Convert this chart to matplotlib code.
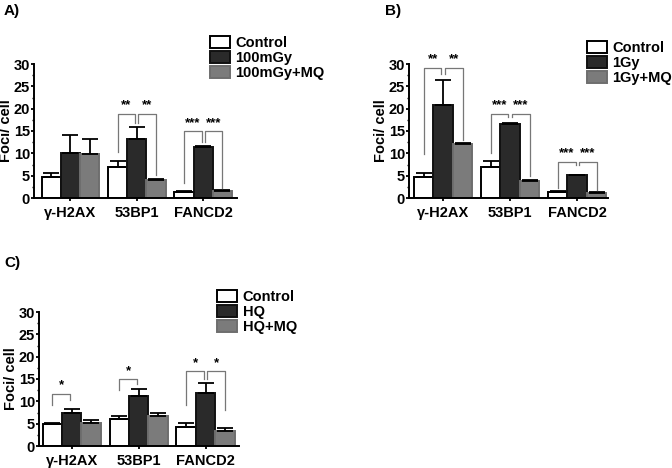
import matplotlib
matplotlib.use("Agg")
import matplotlib.pyplot as plt
import numpy as np

plt.rcParams['font.family'] = ['Liberation Sans', 'DejaVu Sans']
plt.rcParams['font.weight'] = 'bold'

markers = ["γ-H2AX", "53BP1", "FANCD2"]

# Panel A
a_labels = ["Control", "100mGy", "100mGy+MQ"]
a_means = [[4.7, 6.9, 1.3], [10.0, 13.3, 11.5], [9.9, 4.0, 1.6]]
a_err = [[1.0, 1.3, 0.2], [4.1, 2.6, 0.2], [3.4, 0.2, 0.2]]
# (group, pair: 0 = ctrl-vs-treat, 1 = treat-vs-MQ, top, leg1, leg2, stars)
a_sig = [(1, 0, 18.8, 10.3, 16.7, "**"), (1, 1, 18.8, 16.7, 5.1, "**"),
         (2, 0, 14.9, 3.4, 12.6, "***"), (2, 1, 14.9, 12.6, 2.3, "***")]

# Panel B
b_labels = ["Control", "1Gy", "1Gy+MQ"]
b_means = [[4.7, 6.9, 1.3], [20.9, 16.6, 5.1], [12.1, 3.9, 1.2]]
b_err = [[0.9, 1.3, 0.2], [5.6, 0.2, 0.15], [0.2, 0.2, 0.2]]
b_sig = [(0, 0, 29.2, 9.8, 27.8, "**"), (0, 1, 29.2, 27.8, 13.0, "**"),
         (1, 0, 18.9, 10.0, 18.1, "***"), (1, 1, 18.9, 18.1, 4.9, "***"),
         (2, 0, 8.1, 2.3, 7.4, "***"), (2, 1, 8.1, 7.4, 1.7, "***")]

# Panel C
c_labels = ["Control", "HQ", "HQ+MQ"]
c_means = [[5.0, 6.1, 4.3], [7.4, 11.1, 11.9], [5.2, 6.7, 3.3]]
c_err = [[0.25, 0.7, 0.8], [0.8, 1.7, 2.1], [0.65, 0.6, 0.7]]
c_sig = [(0, 0, 11.7, 9.2, 10.3, "*"), (1, 0, 14.9, 12.6, 13.9, "*"),
         (2, 0, 16.7, 9.2, 15.1, "*"), (2, 1, 16.7, 15.1, 8.1, "*")]

W, H = 672, 468
fig = plt.figure(figsize=(W / 100, H / 100), dpi=100)

face = ["white", "#2a2a2a", "#7b7b7b"]
edge = ["black", "#111111", "#6e6e6e"]
bw = 0.29


def panel(rect, labels, means, errs, sig, xlim, letter, letter_pos, leg_pos):
    l, t, r, b = rect
    ax = fig.add_axes([l / W, 1 - b / H, (r - l) / W, (b - t) / H])
    x = np.arange(len(markers))
    handles = []
    for i in range(3):
        pos = x + (i - 1) * bw
        h = ax.bar(pos, means[i], bw, color=face[i], edgecolor=edge[i],
                   linewidth=1.4, zorder=2, label=labels[i])
        handles.append(h)
        ax.errorbar(pos, means[i], yerr=[np.zeros(3), errs[i]], fmt='none',
                    ecolor='black', elinewidth=1.3, capsize=5.5,
                    capthick=1.3, zorder=3)
    for g, p, top, y1, y2, st in sig:
        if p == 0:
            xa, xb = g - bw, g - 0.025
        else:
            xa, xb = g + 0.025, g + bw
        ax.plot([xa, xa, xb, xb], [y1, top, top, y2], color='#777777',
                lw=0.9, clip_on=False, zorder=4)
        ax.text((xa + xb) / 2, top + 0.6, st, ha='center', va='bottom',
                fontsize=9.5, fontweight='bold', clip_on=False)
    ax.set_ylim(0, 30)
    ax.set_xlim(*xlim)
    ax.set_yticks([0, 5, 10, 15, 20, 25, 30])
    ax.set_yticks(np.arange(0, 30.1, 2.5), minor=True)
    ax.set_xticks(x)
    ax.set_xticklabels(markers, fontsize=10.5, fontweight='bold')
    ax.tick_params(axis='y', labelsize=10.5, width=1.3, length=2.3, pad=0.5)
    ax.tick_params(axis='y', which='minor', width=1.0, length=1.5)
    ax.tick_params(axis='x', width=1.3, length=2.5, pad=3)
    for lab in ax.get_yticklabels():
        lab.set_fontweight('bold')
    for s in ['top', 'right']:
        ax.spines[s].set_visible(False)
    for s in ['left', 'bottom']:
        ax.spines[s].set_linewidth(1.4)
    ax.set_ylabel("Foci/ cell", fontsize=10.5, fontweight='bold', labelpad=0.5)
    fig.text(letter_pos[0] / W, 1 - letter_pos[1] / H, letter, fontsize=11,
             fontweight='bold', ha='left', va='top')
    fig.legend(handles=handles, labels=labels, loc='upper left',
               bbox_to_anchor=(leg_pos[0] / W, 1 - leg_pos[1] / H),
               frameon=False, handlelength=1.35,
               handleheight=0.85, handletextpad=0.4, labelspacing=0.08,
               borderpad=0, borderaxespad=0, prop={'weight': 'bold', 'size': 10.5})
    return ax


panel((34, 64, 237, 198), a_labels, a_means, a_err, a_sig, (-0.55, 2.51),
      "A)", (4, 4), (210, 36))
panel((409, 64, 608, 198), b_labels, b_means, b_err, b_sig, (-0.51, 2.46),
      "B)", (385, 4), (587, 41))
panel((39, 312, 239, 446), c_labels, c_means, c_err, c_sig, (-0.49, 2.5),
      "C)", (4, 256), (217, 290))

fig.savefig("out.png", dpi=100)
